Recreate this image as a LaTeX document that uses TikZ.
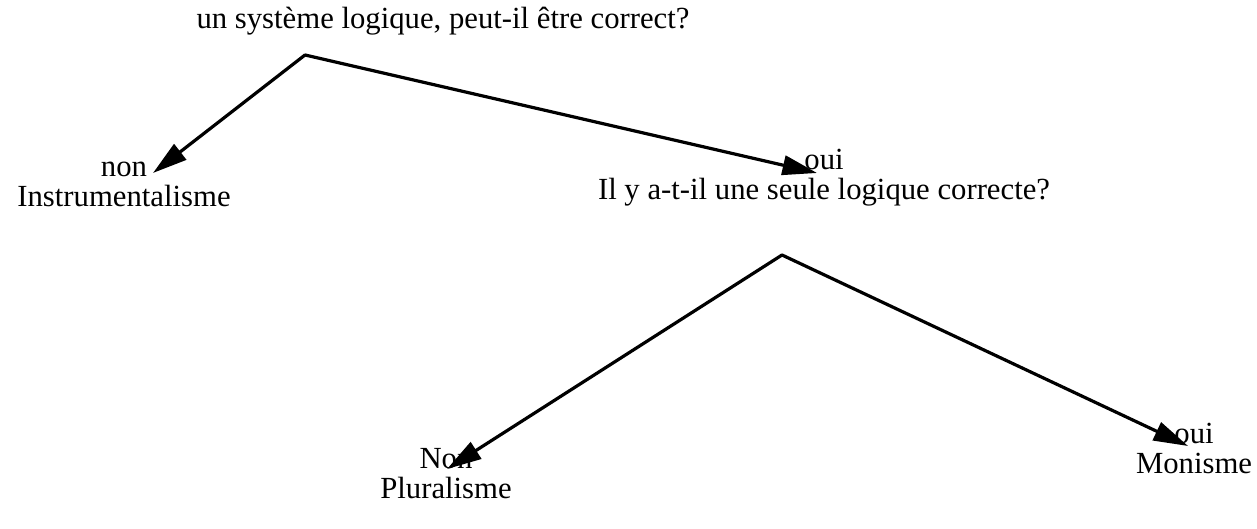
\documentclass[tikz,border=0pt]{standalone}
\usepackage{fontspec}
\setmainfont{Liberation Serif}
\usetikzlibrary{arrows.meta}

\tikzset{
  lbl/.style={align=center,inner sep=0pt,anchor=base,font=\fontsize{12}{12.1}\selectfont},
  arr/.style={-{Triangle[length=13.5pt,width=7.6pt]},line width=1.25pt,line cap=round}
}

\begin{document}
\begin{tikzpicture}[x=0.01374cm,y=-0.01374cm]
  \useasboundingbox (0,0) rectangle (1257,529);
  % questions and answers
  \node[lbl] (q1) at (443,29) {un système logique, peut-il être correct?};
  \node[lbl] (non1) at (124,207) {non\\Instrumentalisme};
  \node[lbl] (oui1) at (824,200) {oui\\Il y a-t-il une seule logique correcte?};
  \node[lbl] (non2) at (446,499) {Non\\Pluralisme};
  \node[lbl] (oui2) at (1194,474) {oui\\Monisme};
  % branch points and tips
  \coordinate (fork1) at (305,55);
  \coordinate (fork2) at (782,255);
  \coordinate (tipnon1) at (153,173);
  \coordinate (tipoui1) at (817,173);
  \coordinate (tipnon2) at (447,469);
  \coordinate (tipoui2) at (1188,446);
  \draw[arr] (fork1) -- (tipnon1);
  \draw[arr] (fork1) -- (tipoui1);
  \draw[arr] (fork2) -- (tipnon2);
  \draw[arr] (fork2) -- (tipoui2);
\end{tikzpicture}
\end{document}
